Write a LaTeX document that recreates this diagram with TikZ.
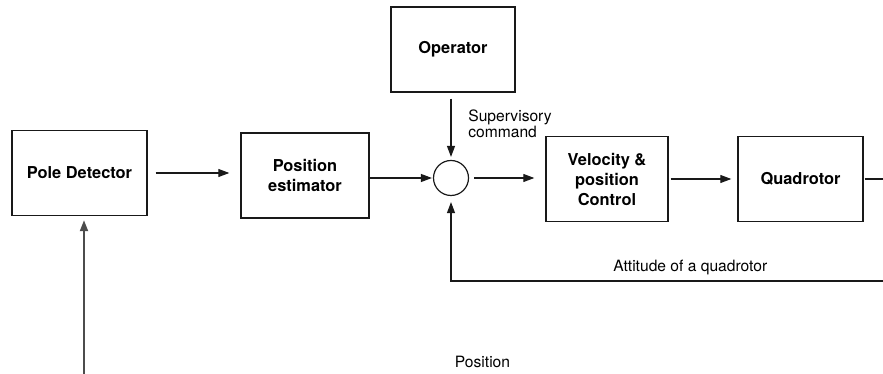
\documentclass[tikz,border=0pt]{standalone}
\usepackage{fontspec}
\setmainfont{TeX Gyre Heros}
\usetikzlibrary{arrows.meta}

\begin{document}
\begin{tikzpicture}[x=0.5pt,y=0.5pt,
		block/.style={draw=black!90,line width=0.7pt,minimum height=42.5pt,align=center,font=\bfseries\fontsize{8.2}{10}\selectfont},
		sumnode/.style={draw=black!90,circle,line width=0.6pt,minimum size=17.5pt,inner sep=0pt},
		lbl/.style={inner sep=0pt,font=\fontsize{7.8}{8.2}\selectfont},
		arr/.style={-{Triangle[length=5.5pt,width=4pt]},line width=0.55pt,draw=black!90},
		link/.style={line width=0.55pt,draw=black!90}]
	\useasboundingbox (0,0) rectangle (883,374);
	\node[block,minimum width=67.5pt] (pole) at (79.5,201) {Pole Detector};
	\node[block,minimum width=64pt] (est) at (305,198.5) {Position\\estimator};
	\node[block,minimum width=62pt] (oper) at (453,324.5) {Operator};
	\node[block,minimum width=61pt] (vel) at (607,195) {Velocity \&\\position\\Control};
	\node[block,minimum width=62.5pt] (quad) at (800.5,195) {Quadrotor};
	\node[sumnode] (sum) at (451,196) {};
	\coordinate (qout) at (883,195);
	\coordinate (att) at (883,93);
	\coordinate (pos) at (84,0);
	\draw[arr,shorten <=4pt,shorten >=5.5pt] (pole.east) -- (pole.east -| est.west);
	\draw[arr,shorten >=0.5pt] (est.east |- sum.west) -- (sum.west);
	\draw[arr,shorten <=2.5pt,shorten >=5.5pt] (sum.east) -- (sum.east -| vel.west);
	\draw[arr,shorten <=1pt,shorten >=3pt] (vel.east) -- (quad.west);
	\draw[arr,shorten <=3pt,shorten >=1.5pt] (oper.south -| sum.north) -- (sum.north);
	\draw[link,shorten <=0.5pt] (quad.east) -- (qout);
	\draw[arr,shorten >=3pt] (att) -| (sum.south) node[pos=0.223,above=3pt,lbl] {Attitude of a quadrotor};
	\draw[arr,line width=0.95pt,draw=black!70,shorten >=2pt] (pos) -- (pos |- pole.south);
	\node[lbl,anchor=west,align=left] (supcmd) at (468,250.5) {Supervisory\\command};
	\node[lbl] (poslbl) at (482.5,12) {Position};
\end{tikzpicture}
\end{document}
